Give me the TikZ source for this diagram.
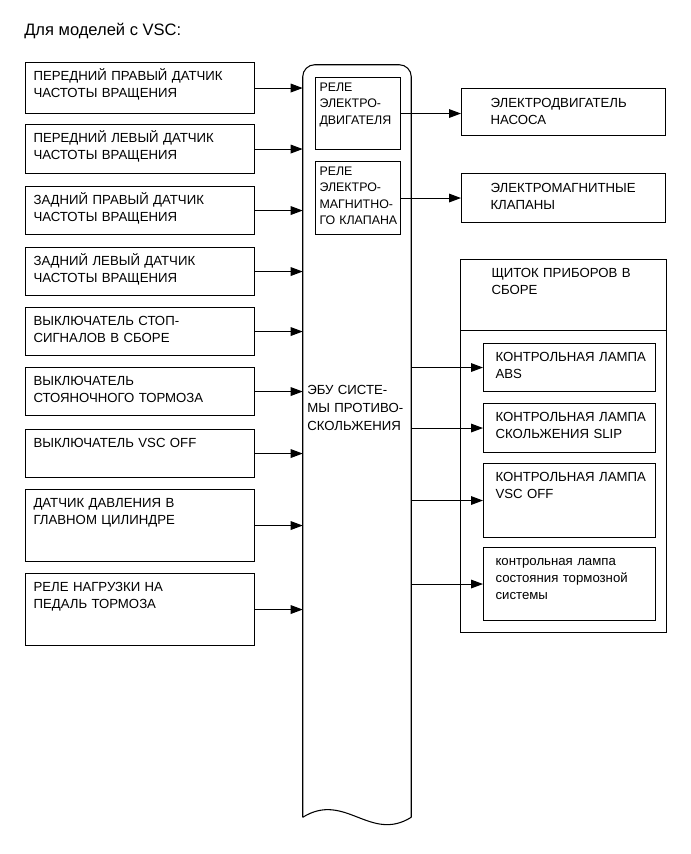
\documentclass[tikz,border=0pt]{standalone}
\usepackage{fontspec}
\setmainfont{Liberation Sans}
\usetikzlibrary{arrows.meta}

\begin{document}
\begin{tikzpicture}[x=0.75pt, y=-0.75pt,
    blk/.style={draw, line width=0.8pt, anchor=north west, align=left, inner ysep=0pt,
                font=\fontsize{9.9}{12.75}\selectfont},
    sensor/.style={blk, text width=159.75pt, inner xsep=6pt, text height=13.5pt, text depth=#1},
    sensor/.default=22.5pt,
    relay/.style={blk, text width=57.75pt, inner xsep=3pt, text height=10.5pt, text depth=#1,
                  font=\fontsize{9.3}{12.2}\selectfont},
    actuator/.style={blk, text width=109.5pt, inner xsep=21.75pt, text height=14.25pt, text depth=#1},
    lamp/.style={blk, text width=111pt, inner xsep=9pt, text height=13.5pt, text depth=#1},
    arrow/.style={-{Triangle[length=9pt,width=6.5pt]}, line width=0.8pt}
]
\useasboundingbox (0,0) rectangle (691,854);

\node[anchor=base west, inner sep=0pt, font=\fontsize{12.4}{15}\selectfont] (title) at (24,35)
    {Для моделей с VSC:};

% inputs
\node[sensor=24.75pt] (frs) at (25,62) {ПЕРЕДНИЙ ПРАВЫЙ ДАТЧИК\\ЧАСТОТЫ ВРАЩЕНИЯ};
\node[sensor=23.25pt] (fls) at (25,124) {ПЕРЕДНИЙ ЛЕВЫЙ ДАТЧИК\\ЧАСТОТЫ ВРАЩЕНИЯ};
\node[sensor] (rrs) at (25,186) {ЗАДНИЙ ПРАВЫЙ ДАТЧИК\\ЧАСТОТЫ ВРАЩЕНИЯ};
\node[sensor] (rls) at (25,247) {ЗАДНИЙ ЛЕВЫЙ ДАТЧИК\\ЧАСТОТЫ ВРАЩЕНИЯ};
\node[sensor] (stop) at (25,307) {ВЫКЛЮЧАТЕЛЬ СТОП-\\СИГНАЛОВ В СБОРЕ};
\node[sensor] (pkb) at (25,367) {ВЫКЛЮЧАТЕЛЬ\\СТОЯНОЧНОГО ТОРМОЗА};
\node[sensor] (vscsw) at (25,429) {ВЫКЛЮЧАТЕЛЬ VSC OFF};
\node[sensor=40.5pt] (mcyl) at (25,489) {ДАТЧИК ДАВЛЕНИЯ В\\ГЛАВНОМ ЦИЛИНДРЕ};
\node[sensor=40.5pt] (pedal) at (25,573) {РЕЛЕ НАГРУЗКИ НА\\ПЕДАЛЬ ТОРМОЗА};

% ECU body with wavy bottom
\node[minimum width=81pt, minimum height=564pt, inner sep=0pt] (ecu) at (357,441) {};
\draw[line width=0.8pt, rounded corners=9pt] (ecu.south west) -- (ecu.north west)
    -- (ecu.north east) -- (ecu.south east);
\draw[line width=0.8pt] (ecu.south east) .. controls (370,843) and (345,791) .. (ecu.south west);
\node[anchor=base west, text width=78pt, align=left, inner sep=0pt,
      font=\fontsize{9.9}{13.5}\selectfont] (ecutxt) at (307,394)
    {ЭБУ~СИСТЕ-\\МЫ~ПРОТИВО-\\СКОЛЬЖЕНИЯ};

% relays inside the ECU
\node[relay=43.5pt] (mrel) at (315,77) {РЕЛЕ\\ЭЛЕКТРО-\\ДВИГАТЕЛЯ};
\node[relay=44.25pt] (srel) at (315,161) {РЕЛЕ\\ЭЛЕКТРО-\\МАГНИТНО-\\ГО~КЛАПАНА};

% outputs
\node[actuator=21pt] (pump) at (461,88) {ЭЛЕКТРОДВИГАТЕЛЬ\\НАСОСА};
\node[actuator=22.5pt] (valve) at (461,173) {ЭЛЕКТРОМАГНИТНЫЕ\\КЛАПАНЫ};

\node[blk, text width=108pt, inner xsep=23.25pt, text height=13.5pt, text depth=266.25pt]
    (meter) at (460,259) {ЩИТОК~ПРИБОРОВ~В\\СБОРЕ};
\draw[line width=0.8pt] ([yshift=-53.4pt]meter.north west) -- ([yshift=-53.4pt]meter.north east);

\node[lamp=22.5pt] (absl) at (483,343) {КОНТРОЛЬНАЯ~ЛАМПА\\ABS};
\node[lamp=23.25pt] (slipl) at (483,403) {КОНТРОЛЬНАЯ~ЛАМПА\\СКОЛЬЖЕНИЯ~SLIP};
\node[lamp=42pt] (vscl) at (483,463) {КОНТРОЛЬНАЯ~ЛАМПА\\VSC OFF};
\node[lamp=41.25pt] (brkl) at (483,547) {контрольная~лампа\\состояния~тормозной\\системы};

% connections
\foreach \s in {frs,fls,rrs,rls,stop,pkb,vscsw,mcyl,pedal}
    \draw[arrow] (\s.east) -- (\s.east -| ecu.west);
\draw[arrow] (mrel.east) -- (mrel.east -| pump.west);
\draw[arrow] (srel.east) -- (srel.east -| valve.west);
\foreach \l in {absl,slipl,vscl,brkl}
    \draw[arrow] (\l.west -| ecu.east) -- (\l.west);
\end{tikzpicture}
\end{document}
